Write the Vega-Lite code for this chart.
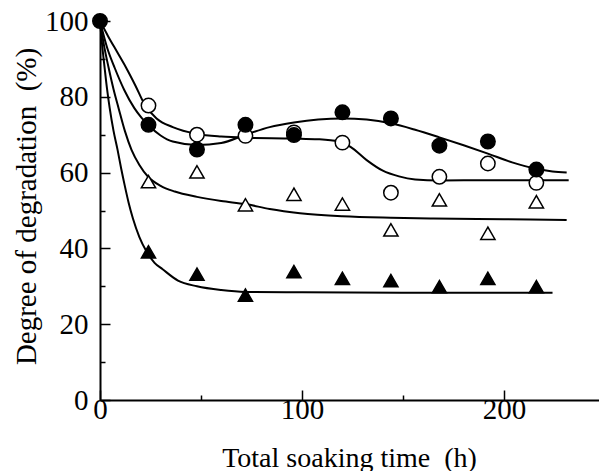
{
  "$schema": "https://vega.github.io/schema/vega-lite/v6.json",
  "width": 500,
  "height": 379,
  "autosize": "none",
  "padding": {"left": 100, "top": 21, "right": 0, "bottom": 71},
  "background": "white",
  "view": {"stroke": null},
  "config": {
    "axis": {"domainColor": "black", "tickColor": "black", "labelColor": "black", "titleColor": "black", "grid": false, "labelFont": "Liberation Serif", "titleFont": "Liberation Serif"}
  },
  "datasets": {
    "curves": [
      {"s": "fc", "t": 0, "v": 100}, {"s": "fc", "t": 3.5, "v": 93}, {"s": "fc", "t": 7.3, "v": 87.6}, {"s": "fc", "t": 12, "v": 81.8}, {"s": "fc", "t": 17, "v": 77}, {"s": "fc", "t": 20.5, "v": 74.5}, {"s": "fc", "t": 24, "v": 72.5}, {"s": "fc", "t": 30, "v": 69.8}, {"s": "fc", "t": 36, "v": 68.2}, {"s": "fc", "t": 48, "v": 67.3}, {"s": "fc", "t": 60, "v": 67.8}, {"s": "fc", "t": 72, "v": 70.0}, {"s": "fc", "t": 84, "v": 72}, {"s": "fc", "t": 96, "v": 73.2}, {"s": "fc", "t": 108, "v": 74}, {"s": "fc", "t": 120, "v": 74.3}, {"s": "fc", "t": 132, "v": 74}, {"s": "fc", "t": 144, "v": 73}, {"s": "fc", "t": 156, "v": 71.3}, {"s": "fc", "t": 168, "v": 69.3}, {"s": "fc", "t": 180, "v": 67.2}, {"s": "fc", "t": 192, "v": 65}, {"s": "fc", "t": 204, "v": 62.7}, {"s": "fc", "t": 216, "v": 61}, {"s": "fc", "t": 224, "v": 60.3}, {"s": "fc", "t": 231, "v": 60},
      {"s": "oc", "t": 0, "v": 100}, {"s": "oc", "t": 4, "v": 96}, {"s": "oc", "t": 8.5, "v": 91.8}, {"s": "oc", "t": 13, "v": 87.6}, {"s": "oc", "t": 17.5, "v": 83}, {"s": "oc", "t": 22.3, "v": 77.8}, {"s": "oc", "t": 28, "v": 74.3}, {"s": "oc", "t": 36, "v": 72}, {"s": "oc", "t": 48, "v": 70.2}, {"s": "oc", "t": 60, "v": 69.5}, {"s": "oc", "t": 72, "v": 69.2}, {"s": "oc", "t": 96, "v": 69}, {"s": "oc", "t": 108, "v": 68.8}, {"s": "oc", "t": 118, "v": 68.2}, {"s": "oc", "t": 124, "v": 66.8}, {"s": "oc", "t": 132, "v": 63.3}, {"s": "oc", "t": 140, "v": 60.5}, {"s": "oc", "t": 148, "v": 59}, {"s": "oc", "t": 156, "v": 58.2}, {"s": "oc", "t": 168, "v": 57.9}, {"s": "oc", "t": 192, "v": 58}, {"s": "oc", "t": 210, "v": 58}, {"s": "oc", "t": 232, "v": 58},
      {"s": "ot", "t": 0, "v": 100}, {"s": "ot", "t": 2, "v": 93.5}, {"s": "ot", "t": 4.3, "v": 87.6}, {"s": "ot", "t": 6.7, "v": 82}, {"s": "ot", "t": 9.2, "v": 77}, {"s": "ot", "t": 12.3, "v": 71}, {"s": "ot", "t": 15.6, "v": 66}, {"s": "ot", "t": 19.5, "v": 62}, {"s": "ot", "t": 23.8, "v": 58.9}, {"s": "ot", "t": 30, "v": 56.5}, {"s": "ot", "t": 37, "v": 55}, {"s": "ot", "t": 48, "v": 53.6}, {"s": "ot", "t": 60, "v": 52.5}, {"s": "ot", "t": 72, "v": 51.7}, {"s": "ot", "t": 84, "v": 50.4}, {"s": "ot", "t": 99, "v": 49.3}, {"s": "ot", "t": 120, "v": 48.5}, {"s": "ot", "t": 144, "v": 48.1}, {"s": "ot", "t": 165, "v": 47.9}, {"s": "ot", "t": 200, "v": 47.7}, {"s": "ot", "t": 231, "v": 47.5},
      {"s": "ft", "t": 0, "v": 100}, {"s": "ft", "t": 1, "v": 94}, {"s": "ft", "t": 2.3, "v": 87.6}, {"s": "ft", "t": 3.5, "v": 82}, {"s": "ft", "t": 4.8, "v": 77}, {"s": "ft", "t": 6.7, "v": 71}, {"s": "ft", "t": 8.7, "v": 66}, {"s": "ft", "t": 10.5, "v": 61}, {"s": "ft", "t": 12.2, "v": 56.7}, {"s": "ft", "t": 14.2, "v": 52}, {"s": "ft", "t": 16.3, "v": 47.9}, {"s": "ft", "t": 19.5, "v": 43}, {"s": "ft", "t": 22.9, "v": 39.3}, {"s": "ft", "t": 27, "v": 36.2}, {"s": "ft", "t": 31, "v": 34.5}, {"s": "ft", "t": 38.6, "v": 31.5}, {"s": "ft", "t": 48, "v": 30}, {"s": "ft", "t": 60, "v": 29}, {"s": "ft", "t": 72, "v": 28.5}, {"s": "ft", "t": 100, "v": 28.4}, {"s": "ft", "t": 150, "v": 28.3}, {"s": "ft", "t": 224, "v": 28.3}
    ],
    "points": [
      {"s": "oc", "t": 24, "v": 77.7}, {"s": "oc", "t": 48, "v": 70.0}, {"s": "oc", "t": 72, "v": 69.7}, {"s": "oc", "t": 96, "v": 70.6}, {"s": "oc", "t": 120, "v": 67.9}, {"s": "oc", "t": 144, "v": 54.7}, {"s": "oc", "t": 168, "v": 58.9}, {"s": "oc", "t": 192, "v": 62.4}, {"s": "oc", "t": 216, "v": 57.3},
      {"s": "ot", "t": 24, "v": 57.6}, {"s": "ot", "t": 48, "v": 60.2}, {"s": "ot", "t": 72, "v": 51.5}, {"s": "ot", "t": 96, "v": 54.3}, {"s": "ot", "t": 120, "v": 51.7}, {"s": "ot", "t": 144, "v": 44.9}, {"s": "ot", "t": 168, "v": 52.8}, {"s": "ot", "t": 192, "v": 44.0}, {"s": "ot", "t": 216, "v": 52.3},
      {"s": "ft", "t": 24, "v": 39.1}, {"s": "ft", "t": 48, "v": 33.2}, {"s": "ft", "t": 72, "v": 27.7}, {"s": "ft", "t": 96, "v": 33.9}, {"s": "ft", "t": 120, "v": 32.1}, {"s": "ft", "t": 144, "v": 31.5}, {"s": "ft", "t": 168, "v": 29.9}, {"s": "ft", "t": 192, "v": 32.1}, {"s": "ft", "t": 216, "v": 29.9},
      {"s": "fc", "t": 0, "v": 100}, {"s": "fc", "t": 24, "v": 72.6}, {"s": "fc", "t": 48, "v": 66.1}, {"s": "fc", "t": 72, "v": 72.6}, {"s": "fc", "t": 96, "v": 69.9}, {"s": "fc", "t": 120, "v": 75.9}, {"s": "fc", "t": 144, "v": 74.3}, {"s": "fc", "t": 168, "v": 67.1}, {"s": "fc", "t": 192, "v": 68.2}, {"s": "fc", "t": 216, "v": 60.8}
    ]
  },
  "encoding": {
    "x": {
      "field": "t", "type": "quantitative",
      "scale": {"domain": [0, 247.5], "nice": false, "zero": false},
      "axis": {
        "title": "Total soaking time \u00a0(h)",
        "values": [0, 50, 100, 150, 200],
        "labelExpr": "datum.value % 100 === 0 ? datum.label : ''",
        "tickSize": {"condition": {"test": "datum.value % 100 === 0", "value": -10}, "value": -5},
        "tickWidth": 1.5,
        "domainWidth": 2,
        "labelFontSize": 29,
        "labelPadding": 5,
        "labelFlush": false,
        "titleFontSize": 28,
        "titleFontWeight": "normal",
        "titleX": 249,
        "titleY": 66,
        "titleBaseline": "alphabetic"
      }
    },
    "y": {
      "field": "v", "type": "quantitative",
      "scale": {"domain": [0, 100], "nice": false},
      "axis": {
        "title": "Degree of degradation \u00a0(%)",
        "values": [0, 10, 20, 30, 40, 50, 60, 70, 80, 90, 100],
        "labelExpr": "datum.value % 20 === 0 ? datum.label : ''",
        "tickSize": {"condition": {"test": "datum.value % 20 === 0", "value": -10}, "value": -5},
        "tickWidth": 1.5,
        "domainWidth": 2,
        "labelFontSize": 29,
        "labelPadding": 22,
        "labelFlush": false,
        "titleFontSize": 29,
        "titleFontWeight": "normal",
        "titleX": -65,
        "titleY": 185,
        "titleAngle": -90,
        "titleAlign": "center",
        "titleBaseline": "alphabetic"
      }
    }
  },
  "layer": [
    {
      "mark": {"type": "rule", "color": "black", "strokeWidth": 2},
      "encoding": {"x": null, "y": {"datum": 100, "type": "quantitative"}}
    },
    {
      "data": {"name": "curves"},
      "mark": {"type": "line", "color": "black", "strokeWidth": 2, "interpolate": "monotone"},
      "encoding": {"detail": {"field": "s"}}
    },
    {
      "data": {"name": "points"},
      "mark": {"type": "point", "filled": true, "stroke": "black", "strokeWidth": 1.5, "opacity": 1},
      "encoding": {
        "shape": {"field": "s", "type": "nominal", "scale": {"domain": ["fc", "oc", "ot", "ft"], "range": ["circle", "circle", "triangle-up", "triangle-up"]}, "legend": null},
        "fill": {"field": "s", "type": "nominal", "scale": {"domain": ["fc", "oc", "ot", "ft"], "range": ["black", "white", "white", "black"]}, "legend": null},
        "size": {"field": "s", "type": "nominal", "scale": {"domain": ["fc", "oc", "ot", "ft"], "range": [210, 200, 220, 230]}, "legend": null}
      }
    }
  ]
}
